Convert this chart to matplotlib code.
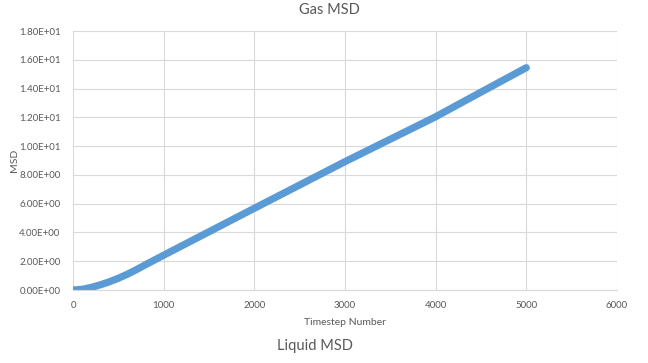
import matplotlib
matplotlib.use("Agg")
import matplotlib.pyplot as plt
from matplotlib.ticker import FuncFormatter

# values
timestep = [0, 100, 200, 300, 400, 500, 600, 700, 800, 1000, 1500, 2000,
            2500, 3000, 3500, 4000, 4500, 5000]
msd = [0.0, 0.05, 0.18, 0.36, 0.57, 0.82, 1.1, 1.42, 1.76, 2.42, 4.05, 5.68,
       7.3, 8.92, 10.48, 12.04, 13.75, 15.45]

x_ticks = [0, 1000, 2000, 3000, 4000, 5000, 6000]
y_ticks = [0, 2, 4, 6, 8, 10, 12, 14, 16, 18]

GREY = "#595959"
GRID = "#D9D9D9"
BLUE = "#5B9BD5"

plt.rcParams["font.family"] = ["Lato", "DejaVu Sans"]

fig = plt.figure(figsize=(6.48, 3.63), dpi=100)
ax = fig.add_axes([0.1127, 0.201, 0.8393, 0.7136])

ax.plot(timestep, msd, color=BLUE, linewidth=5.2, solid_capstyle="round",
        solid_joinstyle="round", zorder=3)

ax.set_xlim(0, 6000)
ax.set_ylim(0, 18)
ax.set_xticks(x_ticks)
ax.set_yticks(y_ticks)
ax.yaxis.set_major_formatter(FuncFormatter(lambda v, _: f"{v:.2E}"))
ax.grid(True, color=GRID, linewidth=0.8)
ax.set_axisbelow(True)
for side in ("top", "right", "left"):
    ax.spines[side].set_visible(False)
ax.spines["bottom"].set_color(GRID)
ax.tick_params(length=0, colors=GREY, labelsize=7)
ax.tick_params(axis="x", pad=8)
ax.tick_params(axis="y", pad=9)

ax.set_xlabel("Timestep Number", color=GREY, fontsize=7.5, labelpad=6)
ax.set_ylabel("MSD", color=GREY, fontsize=7.5, labelpad=0)

fig.text(0.508, 0.972, "Gas MSD", ha="center", va="center", color=GREY, fontsize=10.5)
fig.text(0.486, 0.047, "Liquid MSD", ha="center", va="center", color=GREY, fontsize=10.5)

fig.savefig("out.png", dpi=100)
plt.close(fig)
